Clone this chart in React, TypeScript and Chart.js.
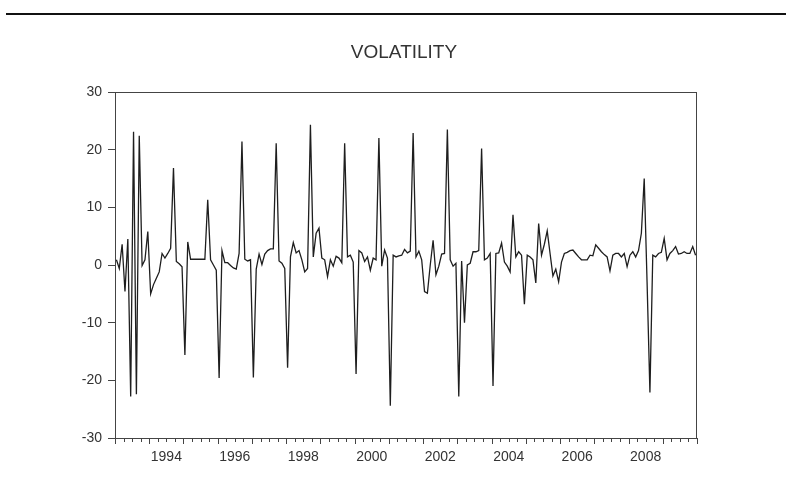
import { useEffect, useRef } from "react";
import { Chart, registerables } from "chart.js";

Chart.register(...registerables);

const START_YEAR = 1993;
const X_MIN = 1993;
const X_MAX = 2010;
const TITLE = "VOLATILITY";

const v1993 = [0.9, -0.6, 3.6, -4.6, 4.5, -22.8, 23.1, -22.4, 22.4, -0.1, 0.9, 5.8];
const v1994 = [-5.0, -3.4, -2.3, -1.2, 2.0, 1.2, 2.0, 2.9, 16.8, 0.6, 0.2, -0.3];
const v1995 = [-15.6, 4.0, 1.0, 1.0, 1.0, 1.0, 1.0, 1.0, 11.3, 0.9, 0.0, -0.9];
const v1996 = [-19.6, 2.5, 0.4, 0.4, -0.1, -0.5, -0.7, 2.0, 21.4, 1.0, 0.7, 0.9];
const v1997 = [-19.5, -0.7, 1.9, 0.1, 1.9, 2.5, 2.8, 2.8, 21.1, 0.7, 0.3, -0.6];
const v1998 = [-17.8, 1.4, 3.9, 2.1, 2.5, 0.9, -1.2, -0.6, 24.3, 1.4, 5.5, 6.4];
const v1999 = [1.2, 0.9, -2.0, 0.9, -0.2, 1.5, 1.2, 0.4, 21.1, 1.4, 1.7, 0.5];
const v2000 = [-18.9, 2.5, 2.1, 0.6, 1.4, -0.9, 1.2, 0.9, 22.0, -0.2, 2.6, 1.2];
const v2001 = [-24.4, 1.7, 1.4, 1.6, 1.7, 2.7, 2.1, 2.4, 22.9, 1.4, 2.4, 0.9];
const v2002 = [-4.6, -4.9, 0.0, 4.3, -1.7, -0.2, 1.9, 2.0, 23.5, 0.9, -0.2, 0.3];
const v2003 = [-22.8, 0.7, -10.0, 0.0, 0.3, 2.3, 2.3, 2.5, 20.2, 0.9, 1.2, 2.0];
const v2004 = [-21.0, 2.0, 2.1, 3.8, 0.5, -0.2, -1.2, 8.7, 1.4, 2.3, 1.7, -6.8];
const v2005 = [1.7, 1.4, 0.9, -3.1, 7.2, 1.7, 3.6, 5.9, 2.0, -1.9, -0.7, -2.9];
const v2006 = [0.5, 2.0, 2.2, 2.5, 2.6, 2.0, 1.4, 0.9, 0.9, 0.9, 1.7, 1.6];
const v2007 = [3.5, 2.9, 2.3, 1.8, 1.4, -1.0, 1.7, 2.0, 2.0, 1.4, 2.0, -0.3];
const v2008 = [1.7, 2.3, 1.4, 2.5, 5.5, 15.0, -3.0, -22.1, 1.7, 1.4, 2.0, 2.2];
const v2009 = [4.6, 0.9, 2.0, 2.5, 3.2, 1.9, 2.0, 2.3, 2.0, 2.0, 3.2, 1.7];

const volatility = [
  ...v1993, ...v1994, ...v1995, ...v1996, ...v1997, ...v1998, ...v1999, ...v2000,
  ...v2001, ...v2002, ...v2003, ...v2004, ...v2005, ...v2006, ...v2007, ...v2008, ...v2009,
];

const yTicks = [-30, -20, -10, 0, 10, 20, 30];
const xLabelYears = [1994, 1996, 1998, 2000, 2002, 2004, 2006, 2008];

const FONT = "'Liberation Sans', Arial, Helvetica, sans-serif";

export default function App() {
  const ref = useRef<HTMLCanvasElement>(null);

  useEffect(() => {
    const canvas = ref.current;
    if (!canvas) return;
    const points = volatility.map((v, i) => ({ x: START_YEAR + (i + 0.5) / 12, y: v }));

    const framePlugin = {
      id: "framePlugin",
      afterDraw(chart: any) {
        const { ctx, chartArea: a, scales } = chart;
        const xs = scales.x;
        ctx.save();
        ctx.strokeStyle = "#444";
        ctx.lineWidth = 1;
        ctx.strokeRect(a.left + 0.5, a.top + 0.5, a.right - a.left - 1, a.bottom - a.top);
        for (let q = X_MIN * 4; q <= X_MAX * 4; q++) {
          const px = Math.round(xs.getPixelForValue(q / 4)) + 0.5;
          const len = q % 4 === 0 ? 6 : 4;
          ctx.beginPath();
          ctx.moveTo(px, a.bottom);
          ctx.lineTo(px, a.bottom + len);
          ctx.stroke();
        }
        ctx.fillStyle = "#333";
        ctx.font = `14px ${FONT}`;
        ctx.textAlign = "center";
        ctx.textBaseline = "middle";
        xLabelYears.forEach((yr) => {
          ctx.fillText(String(yr), xs.getPixelForValue(yr + 0.5), a.bottom + 19);
        });
        ctx.font = `19px ${FONT}`;
        ctx.fillText(TITLE, 404, 53);
        ctx.fillStyle = "#111";
        ctx.fillRect(6, 13, 780, 2);
        ctx.restore();
      },
    };

    const chart = new Chart(canvas, {
      type: "line",
      data: {
        datasets: [
          {
            label: TITLE,
            data: points,
            borderColor: "#1e1e1e",
            borderWidth: 1.3,
            pointRadius: 0,
            tension: 0,
            fill: false,
          },
        ],
      },
      options: {
        animation: false,
        responsive: false,
        events: [],
        layout: { padding: { left: 0, right: 89, top: 92, bottom: 0 } },
        plugins: { legend: { display: false }, title: { display: false }, tooltip: { enabled: false } },
        scales: {
          x: {
            type: "linear",
            min: X_MIN,
            max: X_MAX,
            grid: { display: false },
            border: { display: false },
            ticks: { display: false },
            afterFit: (s: any) => {
              s.height = 59;
            },
          },
          y: {
            type: "linear",
            min: -30,
            max: 30,
            afterBuildTicks: (s: any) => {
              s.ticks = yTicks.map((v) => ({ value: v }));
            },
            ticks: {
              color: "#333",
              font: { family: FONT, size: 14 },
              padding: 6,
            },
            grid: {
              drawOnChartArea: false,
              drawTicks: true,
              tickLength: 7,
              tickColor: "#444",
            },
            border: { display: true, color: "#444" },
            afterFit: (s: any) => {
              s.width = 115;
            },
          },
        },
      },
      plugins: [framePlugin],
    });
    return () => chart.destroy();
  }, []);

  return (
    <div style={{ position: "fixed", left: 0, top: 0, width: 786, height: 497, background: "#fff" }}>
      <canvas ref={ref} width={786} height={497} />
    </div>
  );
}
